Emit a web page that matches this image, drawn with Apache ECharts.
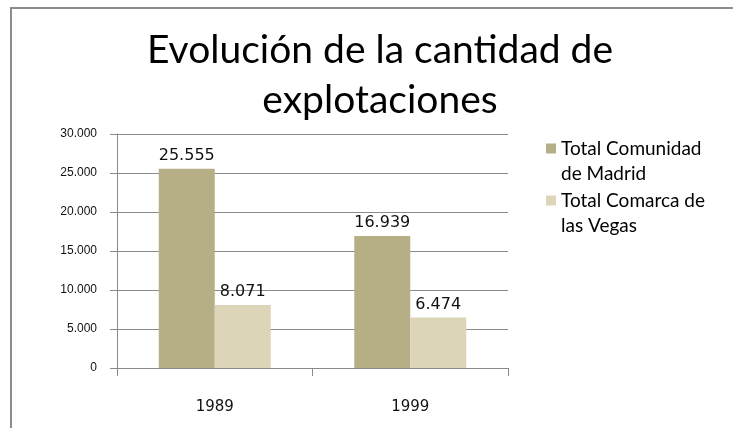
<!DOCTYPE html>
<html>
<head>
<meta charset="utf-8">
<script src="https://cdn.jsdelivr.net/npm/echarts@6/dist/echarts.min.js"></script>
<style>
    html, body { margin: 0; padding: 0; background: #fff; }
    #frame { position: absolute; left: 10px; top: 7px; width: 723px; height: 421px;
             border-left: 2px solid #8c8c8c; border-top: 2px solid #8c8c8c; box-sizing: border-box; }
    #chart { position: absolute; left: 0; top: 0; width: 733px; height: 428px; }
</style>
</head>
<body>
<div id="frame"></div>
<div id="chart"></div>
<script>
    var years = ['1989', '1999'];
    var madrid = [25555, 16939];
    var vegas = [8071, 6474];
    var seriesNames = ['Total Comunidad\nde Madrid', 'Total Comarca de\nlas Vegas'];

    var fmt = function (v) {
        return String(v).replace(/\B(?=(\d{3})+(?!\d))/g, '.');
    };

    var chart = (function (w, undefined) {
        'use strict';
        var myChart;
        var labelStyle = {
            show: true,
            position: 'top',
            distance: 5,
            color: '#111',
            fontFamily: 'DejaVu Sans',
            fontSize: 16,
            formatter: function (p) { return fmt(p.value); }
        };
        var build_fig = function () {
            myChart = echarts.init(document.getElementById('chart'));
            var option = {
                animation: false,
                title: {
                    text: 'Evolución de la cantidad de\nexplotaciones',
                    left: 375,
                    textAlign: 'center',
                    top: 20,
                    textStyle: {
                        fontFamily: 'Lato',
                        fontWeight: 'normal',
                        fontSize: 39,
                        lineHeight: 50,
                        color: '#000'
                    }
                },
                legend: {
                    orient: 'vertical',
                    left: 541,
                    top: 106,
                    itemWidth: 10,
                    itemHeight: 10,
                    itemGap: -23,
                    icon: 'rect',
                    // blank first line keeps the marker level with the first text line
                    formatter: function (name) { return '\n' + name; },
                    textStyle: {
                        fontFamily: 'Lato',
                        fontSize: 19,
                        lineHeight: 25,
                        color: '#000'
                    },
                    data: seriesNames
                },
                grid: {
                    left: 117,
                    right: 225,
                    top: 134,
                    bottom: 60
                },
                xAxis: {
                    type: 'category',
                    data: years,
                    axisLine: { lineStyle: { color: '#8a8a8a' } },
                    axisTick: { show: true, length: 8, lineStyle: { color: '#8a8a8a' } },
                    axisLabel: {
                        margin: 32,
                        color: '#111',
                        fontFamily: 'DejaVu Sans',
                        fontSize: 15
                    }
                },
                yAxis: {
                    type: 'value',
                    min: 0,
                    max: 30000,
                    interval: 5000,
                    axisLine: { show: true, lineStyle: { color: '#8a8a8a' } },
                    axisTick: { show: true, length: 7, lineStyle: { color: '#8a8a8a' } },
                    splitLine: { lineStyle: { color: '#8a8a8a' } },
                    axisLabel: {
                        margin: 20,
                        color: '#111',
                        fontFamily: 'Liberation Sans',
                        fontSize: 12,
                        formatter: fmt
                    }
                },
                series: [
                    {
                        name: seriesNames[0],
                        type: 'bar',
                        data: madrid,
                        barWidth: 56,
                        barGap: '0%',
                        itemStyle: { color: '#b6af86' },
                        label: labelStyle
                    },
                    {
                        name: seriesNames[1],
                        type: 'bar',
                        data: vegas,
                        barWidth: 56,
                        barGap: '0%',
                        itemStyle: { color: '#dcd5b8' },
                        label: labelStyle
                    }
                ]
            };
            myChart.setOption(option);
        };
        return { init: build_fig };
    })(window);
    chart.init();
</script>
</body>
</html>
